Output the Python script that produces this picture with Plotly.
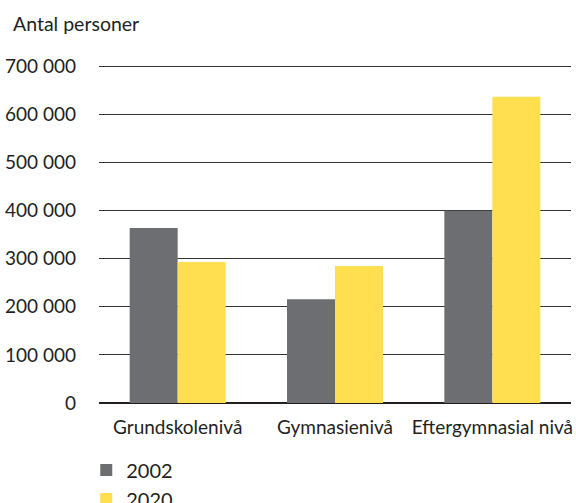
import plotly.graph_objects as go

# Data
categories = ["Grundskolenivå", "Gymnasienivå", "Eftergymnasial nivå"]
values_2002 = [364000, 216000, 400000]
values_2020 = [293000, 285000, 637000]
tick_vals = [0, 100000, 200000, 300000, 400000, 500000, 600000, 700000]
tick_text = ["0", "100 000", "200 000", "300 000", "400 000", "500 000", "600 000", "700 000"]

GREY = "#6d6e71"
YELLOW = "#ffdf4f"
INK = "#231f20"
FONT = "Lato, 'Open Sans', sans-serif"

fig = go.Figure()
fig.add_trace(go.Bar(x=categories, y=values_2002, name="2002", marker=dict(color=GREY, line=dict(width=0))))
fig.add_trace(go.Bar(x=categories, y=values_2020, name="2020", marker=dict(color=YELLOW, line=dict(width=0))))

fig.update_layout(
    width=576, height=503, autosize=False,
    margin=dict(l=99, r=5, t=64, b=100, autoexpand=False),
    paper_bgcolor="white", plot_bgcolor="white",
    font=dict(family=FONT, size=19, color=INK),
    barmode="group", bargap=0.39, bargroupgap=0,
    showlegend=True,
    legend=dict(orientation="v", x=-0.027, xanchor="left", y=-0.14, yanchor="top",
                font=dict(size=20, color=INK), traceorder="normal",
                itemwidth=30, tracegroupgap=0, bgcolor="rgba(0,0,0,0)"),
    annotations=[dict(text="Antal personer", xref="paper", yref="paper",
                      x=-0.186, y=1.12, xanchor="left", yanchor="middle",
                      showarrow=False, font=dict(size=19.5, color=INK))],
)
fig.update_yaxes(range=[0, 705000], tickvals=tick_vals, ticktext=tick_text,
                 tickfont=dict(size=19),
                 showgrid=True, gridcolor="#333333", gridwidth=1,
                 zeroline=True, zerolinecolor=INK, zerolinewidth=2,
                 showline=False, ticks="", ticklabelstandoff=22,
                 automargin=False, fixedrange=True)
fig.update_xaxes(showgrid=False, showline=False, ticks="", ticklabelstandoff=11,
                 range=[-0.5, 2.5], automargin=False, fixedrange=True)

# page body has a default 8px margin; drop it so the figure sits at the window corner
fig.write_html("out.html", config={"displayModeBar": False},
               post_script="document.body.style.margin='0';")
